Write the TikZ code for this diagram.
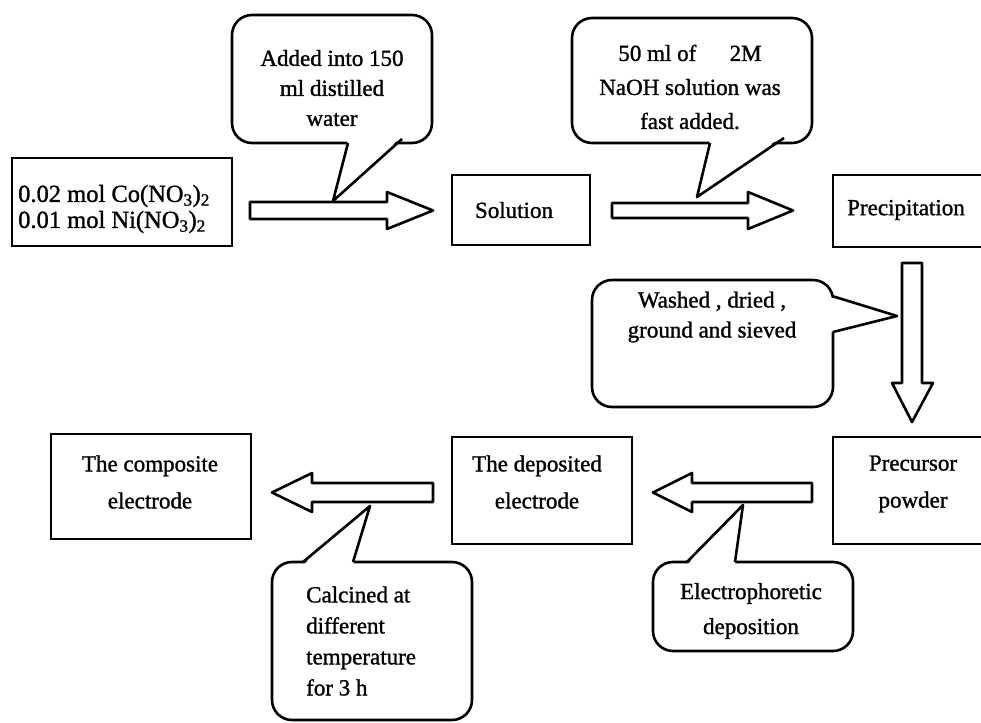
\documentclass[tikz,border=0pt]{standalone}
\usepackage{fontspec}
\setmainfont{Liberation Serif}[FakeBold=1.2]
\begin{document}
\begin{tikzpicture}[x=1pt,y=-1pt,
  lw/.style={line width=2.6pt},
  box/.style={draw,lw,rectangle,inner sep=0pt,fill=white},
  callout/.style={draw,lw,rectangle,rounded corners=20pt,inner sep=0pt,fill=white},
  txt/.style={inner sep=0pt,font=\fontsize{23}{30}\selectfont,align=center},
  barrow/.style={draw,lw,line join=round,fill=white},
  ptr/.style={draw,lw,line join=round}]
\useasboundingbox (0,0) rectangle (981,722);

% ---------- boxes ----------
\node[box,minimum width=220pt,minimum height=88pt] (raw) at (122,202) {};
\node[box,minimum width=138pt,minimum height=70pt] (sol) at (521,210) {};
\node[box,minimum width=162pt,minimum height=72pt] (pre) at (914,211) {};
\node[box,minimum width=162pt,minimum height=107pt] (pcs) at (914,490.5) {};
\node[box,minimum width=180pt,minimum height=107pt] (dep) at (542,490.5) {};
\node[box,minimum width=200pt,minimum height=105pt] (com) at (151,486.5) {};

% ---------- box texts ----------
\node[txt,align=left,anchor=west,font=\fontsize{24.5}{26}\selectfont] (rawt) at (18,209)
  {0.02 mol Co(NO\textsubscript{3})\textsubscript{2}\\0.01 mol Ni(NO\textsubscript{3})\textsubscript{2}};
\node[txt] (solt) at (514,210) {Solution};
\node[txt] (pret) at (906,210) {Precipitation};
\node[txt,font=\fontsize{23}{37}\selectfont] (pcst) at (913,484) {Precursor\\powder};
\node[txt,font=\fontsize{23}{37}\selectfont] (dept) at (537,482) {The deposited\\electrode};
\node[txt,font=\fontsize{23}{37}\selectfont] (comt) at (150,482) {The composite\\electrode};

% ---------- block arrows ----------
\draw[barrow] (250,202) -- (387,202) -- (387,192) -- (433,210.5) -- (387,229) -- (387,219) -- (250,219) -- cycle;
\draw[barrow] (612,203) -- (748,203) -- (748,192) -- (793,210.5) -- (748,229) -- (748,218) -- (612,218) -- cycle;
\draw[barrow] (902,263) -- (922,263) -- (922,383) -- (933,383) -- (912,422) -- (892,383) -- (902,383) -- cycle;
\draw[barrow] (812,483) -- (692,483) -- (692,473) -- (653,492.5) -- (692,512) -- (692,502) -- (812,502) -- cycle;
\draw[barrow] (433,483) -- (312,483) -- (312,473) -- (272,492.5) -- (312,512) -- (312,502) -- (433,502) -- cycle;

\coordinate (t1) at (333,201);
\coordinate (t2) at (697,197);
\coordinate (t3) at (897,316);
\coordinate (t4) at (743,505);
\coordinate (t5) at (370,506);

% ---------- callouts ----------
\node[callout,minimum width=200pt,minimum height=128pt] (c1) at (332,79) {};
\fill[white] (348,140) -- (t1) -- (402,136) -- cycle;
\draw[ptr] (348,143) -- (t1) -- (402,139);
\node[txt] (c1t) at (332,88) {Added into 150\\ml distilled\\water};

\node[callout,minimum width=240pt,minimum height=125pt] (c2) at (692,80.5) {};
\fill[white] (710,140) -- (t2) -- (784,135) -- cycle;
\draw[ptr] (710,143) -- (t2) -- (784,138);
\node[txt,font=\fontsize{23}{34}\selectfont] (c2t) at (690,87) {50 ml of\hspace{1.2em} 2M\\NaOH solution was\\fast added.};

\node[callout,minimum width=241pt,minimum height=127pt] (c3) at (712.5,343.5) {};
\fill[white] (830,297) -- (t3) -- (830,332) -- cycle;
\draw[ptr] (832,296) -- (t3) -- (833,332);
\node[txt] (c3t) at (712,317) {Washed , dried ,\\ground and sieved};

\node[callout,minimum width=200pt,minimum height=89pt] (c4) at (753,606.5) {};
\fill[white] (687,565) -- (t4) -- (735,565) -- cycle;
\draw[ptr] (687,562) -- (t4) -- (735,562);
\node[txt,font=\fontsize{23}{35}\selectfont] (c4t) at (751,611) {Electrophoretic\\deposition};

\node[callout,minimum width=200pt,minimum height=158pt] (c5) at (372,641) {};
\fill[white] (303,565) -- (t5) -- (353,565) -- cycle;
\draw[ptr] (303,562) -- (t5) -- (353,562);
\node[txt,align=left,anchor=west,font=\fontsize{23}{31}\selectfont] (c5t) at (306,641) {Calcined at\\different\\temperature\\for 3 h};
\end{tikzpicture}
\end{document}
